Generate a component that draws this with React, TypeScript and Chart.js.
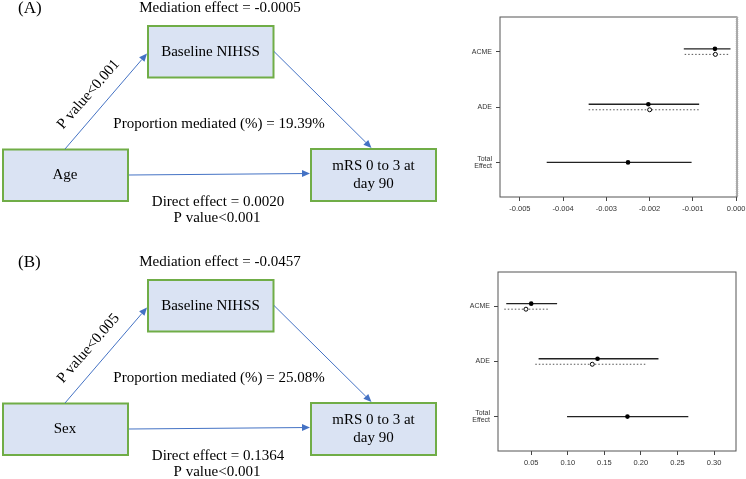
import React, { useEffect, useRef } from "react";
import { Chart, registerables } from "chart.js";
Chart.register(...registerables);

// ---------- Diagram text data ----------
const PANEL_LABELS = ["(A)", "(B)"];
const EXPOSURES = ["Age", "Sex"];
const MEDIATOR = "Baseline NIHSS";
const OUTCOME_LINES = ["mRS 0 to 3 at", "day 90"];
const MEDIATION_EFFECTS = ["-0.0005", "-0.0457"];
const PROPORTION_MEDIATED = ["19.39%", "25.08%"];
const DIRECT_EFFECTS = ["0.0020", "0.1364"];
const EXPOSURE_P = ["P value<0.001", "P value<0.005"];
const DIRECT_P = ["P value<0.001", "P value<0.001"];

// ---------- Forest plot data ----------
const EFFECT_LABELS = ["ACME", "ADE", "Total Effect"];
// Panel A (Age)
const A_EST_SOLID = [-0.00049, -0.00203, -0.0025];
const A_LO_SOLID = [-0.00121, -0.00341, -0.00438];
const A_HI_SOLID = [-0.00013, -0.000855, -0.00103];
const A_EST_DOTTED = [-0.00048, -0.002];
const A_LO_DOTTED = [-0.00119, -0.00341];
const A_HI_DOTTED = [-0.00015, -0.000855];
const A_TICKS = [-0.005, -0.004, -0.003, -0.002, -0.001, 0.0];
// Panel B (Sex)
const B_EST_SOLID = [0.05, 0.1407, 0.1816];
const B_LO_SOLID = [0.0159, 0.0601, 0.099];
const B_HI_SOLID = [0.0854, 0.224, 0.2648];
const B_EST_DOTTED = [0.0428, 0.1335];
const B_LO_DOTTED = [0.0132, 0.0556];
const B_HI_DOTTED = [0.0741, 0.2073];
const B_TICKS = [0.05, 0.1, 0.15, 0.2, 0.25, 0.3];

const SERIF = "'Liberation Serif', 'Times New Roman', serif";
const SANS = "'Liberation Sans', Arial, sans-serif";

const BOX_FILL = "#dae3f3";
const BOX_STROKE = "#70ad47";
const ARROW = "#4472c4";

function arrow(ctx: CanvasRenderingContext2D, x1: number, y1: number, x2: number, y2: number) {
  const ang = Math.atan2(y2 - y1, x2 - x1);
  const len = 8, half = 3.5;
  const bx = x2 - Math.cos(ang) * len, by = y2 - Math.sin(ang) * len;
  ctx.strokeStyle = ARROW;
  ctx.lineWidth = 1;
  ctx.beginPath();
  ctx.moveTo(x1, y1);
  ctx.lineTo(bx, by);
  ctx.stroke();
  ctx.fillStyle = ARROW;
  ctx.beginPath();
  ctx.moveTo(x2, y2);
  ctx.lineTo(bx + Math.sin(ang) * half, by - Math.cos(ang) * half);
  ctx.lineTo(bx - Math.sin(ang) * half, by + Math.cos(ang) * half);
  ctx.closePath();
  ctx.fill();
}

const diagramPlugin = {
  id: "diagram",
  afterDraw(chart: any) {
    const ctx: CanvasRenderingContext2D = chart.ctx;
    const sx = chart.scales.x, sy = chart.scales.y;
    const X = (v: number) => sx.getPixelForValue(v);
    const Y = (v: number) => sy.getPixelForValue(v);
    ctx.save();
    for (let p = 0; p < 2; p++) {
      const o = p * 254;
      const box = (x: number, y: number, w: number, h: number) => {
        ctx.fillStyle = BOX_FILL;
        ctx.fillRect(X(x), Y(y + o), X(x + w) - X(x), Y(y + o + h) - Y(y + o));
        ctx.strokeStyle = BOX_STROKE;
        ctx.lineWidth = 2;
        ctx.strokeRect(X(x), Y(y + o), X(x + w) - X(x), Y(y + o + h) - Y(y + o));
      };
      const text = (s: string, x: number, y: number, size = 15, align: CanvasTextAlign = "center") => {
        ctx.fillStyle = "#000";
        ctx.font = `${size}px ${SERIF}`;
        ctx.textAlign = align;
        ctx.textBaseline = "middle";
        ctx.fillText(s, X(x), Y(y + o));
      };
      box(148, 26, 125.5, 51.5);
      box(3, 149.5, 125, 51.5);
      box(311, 149, 125, 52);
      arrow(ctx, X(65), Y(149 + o), X(147), Y(53.5 + o));
      arrow(ctx, X(274), Y(51.5 + o), X(371.5), Y(148 + o));
      arrow(ctx, X(129), Y(175 + o), X(310), Y(173.5 + o));

      text(PANEL_LABELS[p], 18, 8.5, 17, "left");
      text(`Mediation effect = ${MEDIATION_EFFECTS[p]}`, 220, 8);
      text(MEDIATOR, 210.5, 52);
      text(EXPOSURES[p], 65, 175.5);
      text(OUTCOME_LINES[0], 373.5, 166.5);
      text(OUTCOME_LINES[1], 373.5, 184);
      text(`Proportion mediated (%) = ${PROPORTION_MEDIATED[p]}`, 219, 124);
      text(`Direct effect = ${DIRECT_EFFECTS[p]}`, 218, 202);
      text(DIRECT_P[p], 217, 218);

      ctx.save();
      ctx.translate(X(88.5), Y(94.5 + o));
      ctx.rotate((-49 * Math.PI) / 180);
      ctx.fillStyle = "#000";
      ctx.font = `15px ${SERIF}`;
      ctx.textAlign = "center";
      ctx.textBaseline = "middle";
      ctx.fillText(EXPOSURE_P[p], 0, 0);
      ctx.restore();
    }
    ctx.restore();
  },
};

const boxPlugin = {
  id: "plotBox",
  afterDraw(chart: any, _args: any, opts: any) {
    const { ctx, chartArea: a } = chart;
    ctx.save();
    ctx.strokeStyle = "#555";
    ctx.lineWidth = 1;
    ctx.strokeRect(a.left, a.top, a.right - a.left, a.bottom - a.top);
    if (opts && opts.hatchRight) {
      ctx.strokeStyle = "#aaa";
      ctx.lineWidth = 2.5;
      ctx.setLineDash([1, 1]);
      ctx.beginPath();
      ctx.moveTo(a.right, a.top);
      ctx.lineTo(a.right, a.bottom);
      ctx.stroke();
    }
    ctx.restore();
  },
};

function buildDatasets(
  est: number[], lo: number[], hi: number[],
  estD: number[], loD: number[], hiD: number[]
) {
  const rowY = [3, 2, 1];
  const solidPts: any[] = [];
  const hollowPts: any[] = [];
  const lines: any[] = [];
  for (let i = 0; i < est.length; i++) {
    const hasD = i < estD.length;
    const ys = rowY[i] + (hasD ? 0.05 : 0);
    solidPts.push({ x: est[i], y: ys });
    lines.push({
      data: [{ x: lo[i], y: ys }, { x: hi[i], y: ys }],
      showLine: true, borderColor: "#222", borderWidth: 1.3, pointRadius: 0,
    });
    if (hasD) {
      const yd = rowY[i] - 0.05;
      hollowPts.push({ x: estD[i], y: yd });
      lines.push({
        data: [{ x: loD[i], y: yd }, { x: hiD[i], y: yd }],
        showLine: true, borderColor: "#555", borderWidth: 1, borderDash: [1.5, 2], pointRadius: 0,
      });
    }
  }
  return [
    { data: solidPts, showLine: false, pointRadius: 2.3, pointBackgroundColor: "#000", pointBorderWidth: 0 },
    { data: hollowPts, showLine: false, pointRadius: 2, pointBackgroundColor: "#fff", pointBorderColor: "#000", pointBorderWidth: 1 },
    ...lines,
  ];
}

function forestConfig(
  datasets: any[], xmin: number, xmax: number, ticks: number[], digits: number,
  pad: any, yWidth: number, xHeight: number, hatchRight: boolean
): any {
  return {
    type: "scatter",
    data: { datasets },
    plugins: [boxPlugin],
    options: {
      responsive: false,
      animation: false,
      events: [],
      layout: { padding: pad },
      plugins: { legend: { display: false }, tooltip: { enabled: false }, plotBox: { hatchRight } },
      scales: {
        x: {
          type: "linear", min: xmin, max: xmax,
          afterBuildTicks: (s: any) => { s.ticks = ticks.map((v) => ({ value: v })); },
          afterFit: (s: any) => { s.height = xHeight; s.paddingLeft = 0; s.paddingRight = 0; },
          ticks: {
            callback: (v: any) => Number(v).toFixed(digits),
            font: { family: SANS, size: 7.5 }, color: "#333", padding: 3, maxRotation: 0, autoSkip: false,
          },
          grid: { drawOnChartArea: false, drawTicks: true, tickLength: 4, color: "#444" },
          border: { display: false },
        },
        y: {
          type: "linear", min: 0.375, max: 3.625,
          afterBuildTicks: (s: any) => { s.ticks = [3, 2, 1].map((v) => ({ value: v })); },
          afterFit: (s: any) => { s.width = yWidth; s.paddingTop = 0; s.paddingBottom = 0; },
          ticks: {
            callback: (v: any) => {
              const lab = EFFECT_LABELS[3 - Number(v)];
              return lab && lab.includes(" ") ? lab.split(" ") : lab;
            },
            font: { family: SANS, size: 7, lineHeight: 1 }, color: "#333", padding: 4,
          },
          grid: { drawOnChartArea: false, drawTicks: true, tickLength: 4, color: "#444" },
          border: { display: false },
        },
      },
    },
  };
}

export default function App() {
  const diagRef = useRef<HTMLCanvasElement>(null);
  const aRef = useRef<HTMLCanvasElement>(null);
  const bRef = useRef<HTMLCanvasElement>(null);

  useEffect(() => {
    const charts: Chart[] = [];
    charts.push(
      new Chart(diagRef.current as HTMLCanvasElement, {
        type: "scatter",
        data: { datasets: [{ data: [] }] },
        plugins: [diagramPlugin],
        options: {
          responsive: false,
          animation: false,
          events: [],
          layout: { padding: 0 },
          plugins: { legend: { display: false }, tooltip: { enabled: false } },
          scales: {
            x: { type: "linear", min: 0, max: 440, display: false },
            y: { type: "linear", min: 0, max: 479, reverse: true, display: false },
          },
        },
      } as any)
    );
    charts.push(
      new Chart(
        aRef.current as HTMLCanvasElement,
        forestConfig(
          buildDatasets(A_EST_SOLID, A_LO_SOLID, A_HI_SOLID, A_EST_DOTTED, A_LO_DOTTED, A_HI_DOTTED),
          -0.00546, 0.00002, A_TICKS, 3,
          { top: 17, right: 9, left: 0, bottom: 0 }, 60, 33, true
        )
      )
    );
    charts.push(
      new Chart(
        bRef.current as HTMLCanvasElement,
        forestConfig(
          buildDatasets(B_EST_SOLID, B_LO_SOLID, B_HI_SOLID, B_EST_DOTTED, B_LO_DOTTED, B_HI_DOTTED),
          0.0046, 0.33, B_TICKS, 2,
          { top: 32, right: 10, left: 0, bottom: 0 }, 58, 28, false
        )
      )
    );
    return () => charts.forEach((c) => c.destroy());
  }, []);

  return (
    <div style={{ position: "absolute", left: 0, top: 0, width: 746, height: 479, background: "#fff", overflow: "hidden" }}>
      <canvas ref={diagRef} width={440} height={479} style={{ position: "absolute", left: 0, top: 0, width: 440, height: 479 }} />
      <canvas ref={aRef} width={306} height={230} style={{ position: "absolute", left: 440, top: 0, width: 306, height: 230 }} />
      <canvas ref={bRef} width={306} height={239} style={{ position: "absolute", left: 440, top: 240, width: 306, height: 239 }} />
    </div>
  );
}
